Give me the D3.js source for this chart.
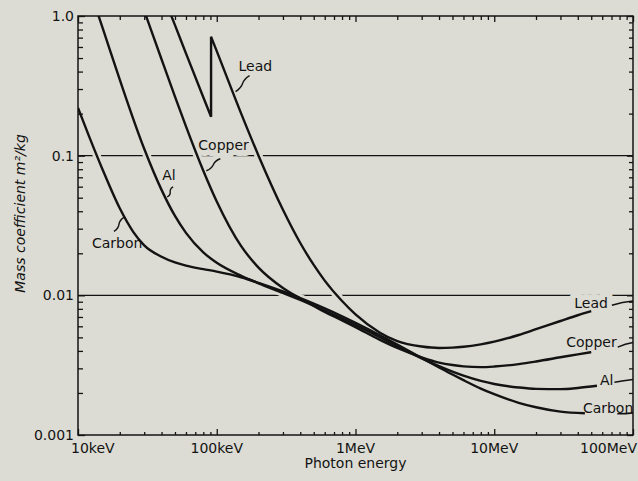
<!DOCTYPE html>
<html>
<head>
<meta charset="utf-8">
<script src="https://cdn.jsdelivr.net/npm/d3@7"></script>
<style>
  html, body { margin: 0; padding: 0; background: #dcdcd4; }
  svg { display: block; }
  text { font-family: "DejaVu Sans", sans-serif; }
</style>
</head>
<body>
<svg id="chart" width="638" height="481"></svg>
<script>
// Photon energy in keV, mass attenuation coefficient in m²/kg
const leadEnergy = [45, 50, 60, 80, 91, 91, 100, 150, 200, 300, 400, 500, 600, 800, 1000, 1500, 2000, 3000, 4000, 5000, 6000, 8000, 10000, 15000, 20000, 30000, 40000, 50000];
const leadValue  = [1.12, 0.86, 0.54, 0.262, 0.19, 0.71, 0.56, 0.20, 0.100, 0.041, 0.0237, 0.0165, 0.01275, 0.0091, 0.0073, 0.0054, 0.0047, 0.0043, 0.0042, 0.00422, 0.00428, 0.00446, 0.00466, 0.0052, 0.00572, 0.00655, 0.0072, 0.0077];

const copperEnergy = [25, 30, 40, 50, 60, 80, 100, 150, 200, 300, 400, 500, 600, 800, 1000, 1500, 2000, 3000, 4000, 5000, 6000, 8000, 10000, 15000, 20000, 30000, 40000, 50000];
const copperValue  = [1.8, 1.09, 0.49, 0.265, 0.162, 0.078, 0.047, 0.0225, 0.0158, 0.0113, 0.0095, 0.0084, 0.0076, 0.00662, 0.00592, 0.0048, 0.0042, 0.0036, 0.0033, 0.00317, 0.0031, 0.00306, 0.00309, 0.00322, 0.00336, 0.0036, 0.00378, 0.00392];

const alEnergy = [12, 15, 20, 30, 40, 50, 60, 80, 100, 150, 200, 300, 400, 500, 600, 800, 1000, 1500, 2000, 3000, 4000, 5000, 6000, 8000, 10000, 15000, 20000, 30000, 40000, 55000];
const alValue  = [1.6, 0.83, 0.35, 0.112, 0.0569, 0.037, 0.028, 0.0203, 0.0171, 0.0138, 0.0122, 0.0104, 0.00926, 0.00843, 0.00779, 0.00683, 0.00614, 0.00501, 0.00433, 0.00354, 0.00311, 0.00284, 0.00266, 0.00244, 0.00232, 0.00219, 0.00214, 0.00213, 0.00217, 0.00225];

const carbonEnergy = [10, 12, 15, 20, 25, 30, 40, 50, 60, 80, 100, 150, 200, 300, 400, 500, 600, 800, 1000, 1500, 2000, 3000, 4000, 5000, 6000, 8000, 10000, 15000, 20000, 30000, 45000];
const carbonValue  = [0.22, 0.138, 0.08, 0.042, 0.0285, 0.0228, 0.0189, 0.0172, 0.0163, 0.0154, 0.0148, 0.01347, 0.01229, 0.01066, 0.00955, 0.00872, 0.00806, 0.00708, 0.00636, 0.00518, 0.00444, 0.00356, 0.00305, 0.00271, 0.00247, 0.00215, 0.00196, 0.0017, 0.00158, 0.00147, 0.00143];

// Coefficient at 100 MeV, marked on the right-hand axis
const seriesNames = ["Lead", "Copper", "Al", "Carbon"];
const valueAt100MeV = [0.0091, 0.0046, 0.0025, 0.00144];

const xTickValues = [10, 100, 1000, 10000, 100000];
const xTickLabels = ["10keV", "100keV", "1MeV", "10MeV", "100MeV"];
const yTickValues = [0.001, 0.01, 0.1, 1];
const yTickLabels = ["0.001", "0.01", "0.1", "1.0"];
const gridValues = [0.1, 0.01];

// ---------------------------------------------------------------------------
const W = 638, H = 481;
const margin = { top: 16, right: 5, bottom: 46, left: 78 };
const BG = "#dcdcd4", INK = "#131313";

const x = d3.scaleLog().domain([10, 1e5]).range([margin.left, W - margin.right]);
const y = d3.scaleLog().domain([0.001, 1]).range([H - margin.bottom, margin.top]);
const [x0, x1] = x.range();
const [y0, y1] = [y.range()[1], y.range()[0]];   // top, bottom

const series = [
  { name: "Lead",   energy: leadEnergy,   value: leadValue },
  { name: "Copper", energy: copperEnergy, value: copperValue },
  { name: "Al",     energy: alEnergy,     value: alValue },
  { name: "Carbon", energy: carbonEnergy, value: carbonValue }
].map(s => ({ ...s, end100: valueAt100MeV[seriesNames.indexOf(s.name)] }));
const byName = Object.fromEntries(series.map(s => [s.name, s]));

const svg = d3.select("#chart");
svg.append("rect").attr("width", W).attr("height", H).attr("fill", BG);

svg.append("defs").append("clipPath").attr("id", "plot-clip")
  .append("rect").attr("x", x0).attr("y", y0).attr("width", x1 - x0).attr("height", y1 - y0);

// log-log interpolation along a series (skips the vertical edge step)
function valueAt(s, e) {
  let v = null;
  for (let i = 0; i < s.energy.length - 1; i++) {
    const a = s.energy[i], b = s.energy[i + 1];
    if (a === b) continue;
    if (e >= a && e <= b) {
      const t = Math.log(e / a) / Math.log(b / a);
      v = Math.exp(Math.log(s.value[i]) + t * Math.log(s.value[i + 1] / s.value[i]));
    }
  }
  return v;
}

const line = d3.line().x(d => x(d[0])).y(d => y(d[1])).curve(d3.curveMonotoneX);
// a repeated energy marks an absorption edge: draw it as a vertical jump
function curvePath(s) {
  const pts = s.energy.map((e, i) => [e, s.value[i]]);
  const pieces = [[pts[0]]];
  for (let i = 1; i < pts.length; i++) {
    if (pts[i][0] === pts[i - 1][0]) pieces.push([pts[i]]);
    else pieces[pieces.length - 1].push(pts[i]);
  }
  return pieces.map((p, i) => (i === 0 ? line(p) : "L" + line(p).slice(1))).join("");
}

// ---- horizontal reference lines ----
svg.append("g").selectAll("line").data(gridValues).join("line")
  .attr("x1", x0).attr("x2", x1)
  .attr("y1", d => y(d)).attr("y2", d => y(d))
  .attr("stroke", INK).attr("stroke-width", 1.1);

// ---- curve labels (placed by the curve they point to) ----
const innerLabels = [
  { name: "Lead",   at: 130,  dx: 6,   dy: -21, from: [17, -16], to: [3, 0] },
  { name: "Copper", at: 80,   dx: -5,  dy: -21, from: [17, -12], to: [3, 0] },
  { name: "Al",     at: 42.5, dx: -3,  dy: -16.5, from: [8, -10], to: [2, 0] },
  { name: "Carbon", at: 21.8, dx: -33, dy: 31,  from: [-11, 14], to: [-1, 0] }
].map(l => {
  const s = byName[l.name];
  return { ...l, px: x(l.at), py: y(valueAt(s, l.at)) };
});

const endLabels = [
  { name: "Lead",   dx: -17, dy: -3, gap: 4,   lift: -3 },
  { name: "Copper", dx: -25, dy: -5, gap: 1,   lift: 0 },
  { name: "Al",     dx: 3,   dy: -0.5, gap: 1, lift: -3 },
  { name: "Carbon", dx: -2,  dy: 0,  gap: -16, lift: 0.5 }
].map(l => {
  const s = byName[l.name];
  const n = s.energy.length - 1;
  return { ...l, s, px: x(s.energy[n]), py: y(s.value[n]) };
});

const fontSize = 14;
const halo = svg.append("g").attr("font-size", fontSize)
  .attr("fill", BG).attr("stroke", BG).attr("stroke-width", 12).attr("stroke-linejoin", "round");
halo.selectAll("text.i").data(innerLabels).join("text").attr("class", "i")
  .attr("x", d => d.px + d.dx).attr("y", d => d.py + d.dy).text(d => d.name);
halo.selectAll("text.e").data(endLabels).join("text").attr("class", "e")
  .attr("x", d => d.px + d.dx).attr("y", d => d.py + d.dy).text(d => d.name);

// ---- curve halos break the reference lines where curves cross them ----
const plot = svg.append("g").attr("clip-path", "url(#plot-clip)");
plot.selectAll("path.halo").data(series).join("path").attr("class", "halo")
  .attr("d", curvePath).attr("fill", "none").attr("stroke", BG).attr("stroke-width", 8);

// ---- frame and ticks ----
svg.append("rect").attr("x", x0).attr("y", y0).attr("width", x1 - x0).attr("height", y1 - y0)
  .attr("fill", "none").attr("stroke", INK).attr("stroke-width", 1.5);

const xMinor = x.ticks().filter(v => !xTickValues.includes(v));
const yMinor = y.ticks().filter(v => !yTickValues.some(t => Math.abs(t - v) < 1e-12));

function tickAxis(axis, pos, values, size) {
  const g = svg.append("g").attr("transform", pos)
    .call(axis.tickValues(values).tickSize(size).tickSizeOuter(0).tickFormat(""));
  g.select(".domain").remove();
  g.selectAll(".tick line").attr("stroke", INK).attr("stroke-width", 1.3);
}
tickAxis(d3.axisBottom(x), `translate(0,${y1})`, xMinor, -3);
tickAxis(d3.axisBottom(x), `translate(0,${y1})`, xTickValues, -6);
tickAxis(d3.axisTop(x), `translate(0,${y0})`, xMinor, -4);
tickAxis(d3.axisTop(x), `translate(0,${y0})`, xTickValues, -6);
tickAxis(d3.axisLeft(y), `translate(${x0},0)`, yMinor, -5);
tickAxis(d3.axisLeft(y), `translate(${x0},0)`, yTickValues, -7);
tickAxis(d3.axisRight(y), `translate(${x1},0)`, yMinor, -4);
tickAxis(d3.axisRight(y), `translate(${x1},0)`, yTickValues, -6);

// ---- curves ----
plot.selectAll("path.curve").data(series).join("path").attr("class", "curve")
  .attr("d", curvePath).attr("fill", "none").attr("stroke", INK)
  .attr("stroke-width", 2.4).attr("stroke-linejoin", "miter");

// ---- labels, squiggle leaders ----
const ink = svg.append("g").attr("font-size", fontSize).attr("fill", INK);

function squiggle(ax, ay, bx, by, k) {
  const dx = bx - ax, dy = by - ay, len = Math.hypot(dx, dy);
  const nx = -dy / len * k, ny = dx / len * k;
  return `M${ax},${ay}C${ax + dx * 0.55 + nx},${ay + dy * 0.55 + ny} ${ax + dx * 0.45 - nx},${ay + dy * 0.45 - ny} ${bx},${by}`;
}

innerLabels.forEach(l => {
  ink.append("text").attr("x", l.px + l.dx).attr("y", l.py + l.dy).text(l.name);
  svg.append("path")
    .attr("d", squiggle(l.px + l.from[0], l.py + l.from[1], l.px + l.to[0], l.py + l.to[1], 4))
    .attr("fill", "none").attr("stroke", INK).attr("stroke-width", 1.4);
});

endLabels.forEach(l => {
  const t = ink.append("text").attr("x", l.px + l.dx).attr("y", l.py + l.dy).text(l.name);
  const w = t.node().getComputedTextLength();
  const sx = l.px + l.dx + w + l.gap, sy = l.py + l.dy + l.lift;
  const ex = x(1e5), ey = y(l.s.end100);
  svg.append("path")
    .attr("d", `M${sx},${sy}Q${(sx + ex) / 2},${Math.min(sy, ey) + (sy > ey ? 1 : 0)} ${ex},${ey}`)
    .attr("fill", "none").attr("stroke", INK).attr("stroke-width", 1.6);
});

// ---- tick labels and titles ----
const axisText = svg.append("g").attr("font-size", fontSize).attr("fill", INK);
const lastX = xTickValues.length - 1;
axisText.selectAll("text.x").data(xTickValues).join("text").attr("class", "x")
  .attr("x", (d, i) => i === 0 ? x(d) - 7 : i === lastX ? W - 1 : x(d))
  .attr("y", y1 + 18)
  .attr("text-anchor", (d, i) => i === 0 ? "start" : i === lastX ? "end" : "middle")
  .text((d, i) => xTickLabels[i]);

axisText.selectAll("text.y").data(yTickValues).join("text").attr("class", "y")
  .attr("x", x0 - 4).attr("y", d => y(d)).attr("dy", "0.36em")
  .attr("text-anchor", "end")
  .text((d, i) => yTickLabels[i]);

axisText.append("text").attr("x", x(1000)).attr("y", y1 + 33)
  .attr("text-anchor", "middle").text("Photon energy");

axisText.append("text")
  .attr("transform", `translate(25,${(y0 + y1) / 2 - 12}) rotate(-90)`)
  .attr("text-anchor", "middle").attr("font-style", "italic")
  .text("Mass coefficient m²/kg");
</script>
</body>
</html>
